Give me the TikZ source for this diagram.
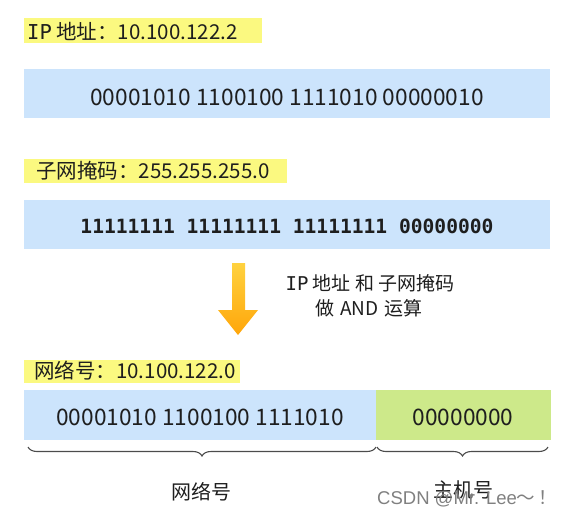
\documentclass[tikz,border=0pt]{standalone}
\usepackage{fontspec}
\setmainfont{Noto Sans CJK SC}
\newfontfamily\monof{DejaVu Sans Mono}
\newfontfamily\wmfont{Liberation Sans}
\newfontfamily\cjkf{Noto Sans CJK SC}
\usetikzlibrary{decorations.pathreplacing}
\definecolor{hly}{HTML}{FBF980}
\definecolor{barblue}{HTML}{CCE4FC}
\definecolor{bargreen}{HTML}{CDE98A}
\definecolor{txt}{HTML}{1E1E1E}
\definecolor{arrtop}{HTML}{FFD23F}
\definecolor{arrbot}{HTML}{FFA60A}
\tikzset{
  hltext/.style={anchor=west, inner sep=0pt, text=txt, font=\fontsize{20.5}{20.5}\selectfont},
  bar/.style={inner sep=0pt, text=txt, font=\fontsize{22.7}{22.7}\selectfont},
  bracepath/.style={draw=black!70, line width=1.1pt, decorate, decoration={brace, mirror, amplitude=9pt}},
  lbl/.style={text=txt, inner sep=0pt, font=\fontsize{19}{19}\selectfont}
}
\begin{document}
\begin{tikzpicture}[x=1pt,y=-1pt]
\useasboundingbox (0,0) rectangle (567,514);
% IP address
\fill[hly] (24,18) rectangle (262,43);
\node[hltext] (iplbl) at (27,31) {{\monof IP} 地址：10.100.122.2};
\fill[barblue] (24,69) rectangle (550,118);
\node[bar] (ipbar) at (287,97) {00001010 1100100 1111010 00000010};
% mask
\fill[hly] (24,159) rectangle (287,183);
\node[hltext] (masklbl) at (36,171) {子网掩码：255.255.255.0};
\fill[barblue] (24,200) rectangle (550,249);
\node[inner sep=0pt, text=txt, font=\monof\bfseries\fontsize{19.6}{19.6}\selectfont] (maskbar) at (287,226) {11111111 11111111 11111111 00000000};
% arrow
\shade[top color=arrtop, bottom color=arrbot]
  (232,263) -- (245,263) -- (245,310) -- (258,310) -- (238,335) -- (218,310) -- (232,310) -- cycle;
\node[lbl] (op1) at (370,283) {{\monof IP} 地址 和 子网掩码};
\node[lbl] (op2) at (369,308) {做\hspace{0.3em}AND\hspace{0.3em}运算};
% network number
\fill[hly] (24,360) rectangle (240,383);
\node[hltext] (netlbl) at (34,371) {网络号：10.100.122.0};
\fill[barblue] (24,390) rectangle (376,440);
\fill[bargreen] (376,390) rectangle (551,440);
\node[bar] (netbar) at (200,417) {00001010 1100100 1111010};
\node[bar] (hostbar) at (463,417) {00000000};
% braces
\coordinate (b1s) at (28,447);
\coordinate (b1e) at (376,447);
\coordinate (b2s) at (377,447);
\coordinate (b2e) at (548,447);
\draw[bracepath] (b1s) -- (b1e);
\draw[bracepath] (b2s) -- (b2e);
\node[lbl, font=\fontsize{20}{20}\selectfont] (netname) at (201,492) {网络号};
\node[lbl, font=\fontsize{20}{20}\selectfont] (hostname) at (463,490) {主机号};
\node[text=black!50, font=\wmfont\fontsize{18.5}{18.5}\selectfont, inner sep=0pt, anchor=west] (wm) at (377,499) {CSDN @Mr. Lee{\cjkf ～\,！}};
\end{tikzpicture}
\end{document}
